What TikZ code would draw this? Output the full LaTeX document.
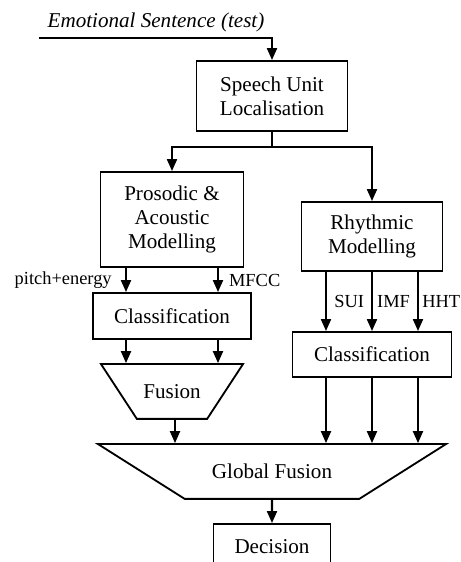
\documentclass[tikz,border=0pt]{standalone}
\usepackage{fontspec}
\setmainfont{Liberation Serif}
\usetikzlibrary{shapes.geometric,arrows.meta}

\begin{document}
\begin{tikzpicture}[
  block/.style={draw,line width=1.3pt,align=center,inner sep=0pt,font=\fontsize{15}{16.8}\selectfont},
  merge/.style={draw,line width=1.3pt,trapezium,shape border rotate=180,trapezium stretches body,inner xsep=0pt,inner ysep=14.5pt,text height=10pt,text depth=0pt,font=\fontsize{15}{16.8}\selectfont},
  flow/.style={line width=1.6pt,-{Triangle[length=8.5pt,width=7pt]}},
  feat/.style={font=\fontsize{13.1}{15}\selectfont,inner sep=0pt}
]
\useasboundingbox (0,0) rectangle (11.525,14.05);
\node at (3.9,13.35)[anchor=base,inner sep=0pt,font=\itshape\fontsize{15}{18}\selectfont] (input) {Emotional Sentence (test)};
\coordinate (src) at (0.975,13.1);
\node at (6.8,11.65)[block,minimum width=3.775cm,minimum height=1.75cm] (unit) {Speech Unit\\Localisation};
\coordinate (split) at (6.8,10.375);
\node at (4.3,8.5625)[block,minimum width=3.575cm,minimum height=2.375cm] (pros) {Prosodic \&\\Acoustic\\Modelling};
\node at (9.3,8.1375)[block,minimum width=3.525cm,minimum height=1.725cm] (rhy) {Rhythmic\\Modelling};
\node at (4.3,6.15)[block,minimum width=3.95cm,minimum height=1.15cm] (clsl) {Classification};
\node at (9.3,5.1875)[block,minimum width=3.975cm,minimum height=1.125cm] (clsr) {Classification};
\node at (4.3,4.2625)[merge,trapezium angle=56.8,minimum width=3.55cm] (fus) {Fusion};
\node at (6.8,2.2625)[merge,trapezium angle=32.3,minimum width=8.7cm] (glob) {Global Fusion};
\node at (6.8,0.375)[block,minimum width=2.925cm,minimum height=1.15cm] (dec) {Decision};
\draw[flow] (src) -- (src -| unit) -- (unit.north);
\draw[flow] (unit.south) |- (pros.north |- split) -- (pros.north);
\draw[flow] (unit.south) |- (rhy.north |- split) -- (rhy.north);
\draw[flow] ([xshift=-1.15cm]pros.south) -- ([xshift=-1.15cm]pros.south |- clsl.north) node[midway,anchor=east,xshift=-0.33cm,feat] (pe) {pitch+energy};
\draw[flow] ([xshift=1.15cm]pros.south) -- ([xshift=1.15cm]pros.south |- clsl.north) node[midway,anchor=west,xshift=0.25cm,feat] (mfcc) {MFCC};
\draw[flow] ([xshift=-1.15cm]rhy.south) -- ([xshift=-1.15cm]rhy.south |- clsr.north) node[midway,anchor=west,xshift=0.18cm,feat] (sui) {SUI};
\draw[flow] (rhy.south) -- (rhy.south |- clsr.north) node[midway,anchor=west,xshift=0.1cm,feat] (imf) {IMF};
\draw[flow] ([xshift=1.15cm]rhy.south) -- ([xshift=1.15cm]rhy.south |- clsr.north) node[midway,anchor=west,xshift=0.08cm,feat] (hht) {HHT};
\foreach \dx in {-1.15,1.15}
\draw[flow] ([xshift=\dx cm]clsl.south) -- ([xshift=\dx cm]clsl.south |- fus.north);
\foreach \dx in {-1.15,0,1.15}
\draw[flow] ([xshift=\dx cm]clsr.south) -- ([xshift=\dx cm]clsr.south |- glob.north);
\draw[flow] ([xshift=0.075cm]fus.south) -- ([xshift=0.075cm]fus.south |- glob.north);
\draw[flow] (glob.south) -- (dec.north);
\end{tikzpicture}
\end{document}
